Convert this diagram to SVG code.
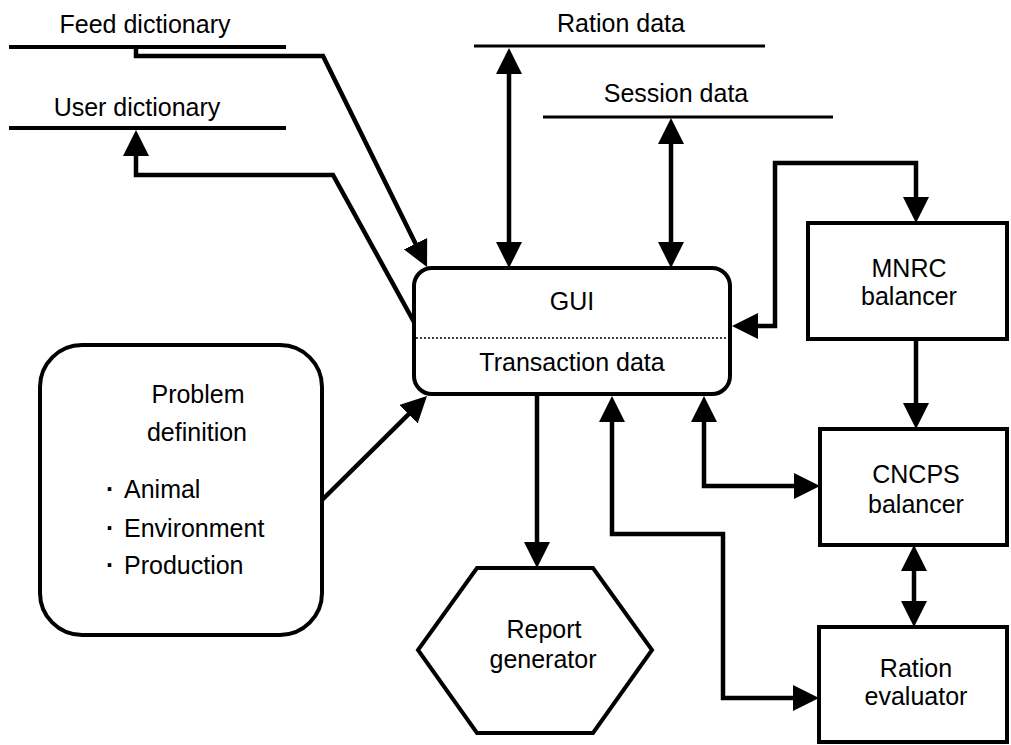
<svg xmlns="http://www.w3.org/2000/svg" width="1011" height="745" viewBox="0 0 1011 745">
<style>
text{font-family:"Liberation Sans",Arial,sans-serif;font-size:25px;fill:#000}
.c{text-anchor:middle}
.box{fill:#fff;stroke:#000;stroke-width:4}
.store{stroke:#000;stroke-width:4;fill:none}
.con{stroke:#000;stroke-width:4.5;fill:none;stroke-linejoin:miter}
.dot{stroke:#000;stroke-width:1.5;stroke-dasharray:2 2;fill:none}
.b{font-weight:bold}
</style>
<defs>
<marker id="ah" markerUnits="userSpaceOnUse" markerWidth="26" markerHeight="26" viewBox="0 0 26 26" refX="18" refY="13" orient="auto-start-reverse">
<path d="M0,0 L26,13 L0,26 z" fill="#000"/>
</marker>
</defs>
<rect width="1011" height="745" fill="#fff"/>
<g id="connectors">
<path class="con" d="M136,47 V56 H323 L423.5,259.8" marker-end="url(#ah)"/>
<path class="con" d="M414,322 L333,175 H136 V138" marker-end="url(#ah)"/>
<path class="con" d="M509,56 V260" marker-start="url(#ah)" marker-end="url(#ah)"/>
<path class="con" d="M671,126 V260" marker-start="url(#ah)" marker-end="url(#ah)"/>
<path class="con" d="M740,326 H775 V163 H916 V215" marker-start="url(#ah)" marker-end="url(#ah)"/>
<path class="con" d="M916,339 V421" marker-end="url(#ah)"/>
<path class="con" d="M322,500 L421.3,401.6" marker-end="url(#ah)"/>
<path class="con" d="M537,394 V560" marker-end="url(#ah)"/>
<path class="con" d="M612,404 V534 H723 V698 H811" marker-start="url(#ah)" marker-end="url(#ah)"/>
<path class="con" d="M704,404 V486 H812" marker-start="url(#ah)" marker-end="url(#ah)"/>
<path class="con" d="M914,553 V619" marker-start="url(#ah)" marker-end="url(#ah)"/>
</g>
<g id="feed-dictionary">
<line class="store" x1="9" y1="47" x2="286" y2="47"/>
<text class="c" x="145" y="33">Feed dictionary</text>
</g>
<g id="user-dictionary">
<line class="store" x1="9" y1="128" x2="286" y2="128"/>
<text class="c" x="137" y="116">User dictionary</text>
</g>
<g id="ration-data">
<line class="store" x1="474" y1="46" x2="765" y2="46" style="stroke-width:3"/>
<text class="c" x="621" y="32">Ration data</text>
</g>
<g id="session-data">
<line class="store" x1="543" y1="117" x2="833" y2="117" style="stroke-width:3"/>
<text class="c" x="676" y="102">Session data</text>
</g>
<g id="gui">
<rect class="box" x="414" y="268" width="316" height="126" rx="18"/>
<line class="dot" x1="416" y1="338" x2="728" y2="338"/>
<text class="c" x="572" y="310">GUI</text>
<text class="c" x="572" y="371">Transaction data</text>
</g>
<g id="mnrc-balancer">
<rect class="box" x="808" y="223" width="199" height="116"/>
<text class="c" x="909" y="277">MNRC</text>
<text class="c" x="909" y="305">balancer</text>
</g>
<g id="cncps-balancer">
<rect class="box" x="820" y="429" width="187" height="116"/>
<text class="c" x="916" y="483">CNCPS</text>
<text class="c" x="916" y="513">balancer</text>
</g>
<g id="ration-evaluator">
<rect class="box" x="819" y="627" width="188" height="115"/>
<text class="c" x="916" y="677">Ration</text>
<text class="c" x="916" y="705">evaluator</text>
</g>
<g id="report-generator">
<polygon class="box" points="477,568 593,568 652,650 593,733 477,733 418,650"/>
<text class="c" x="544" y="638">Report</text>
<text class="c" x="543" y="668">generator</text>
</g>
<g id="problem-definition">
<rect class="box" x="40" y="345" width="282" height="290" rx="42"/>
<text class="c" x="198" y="403">Problem</text>
<text class="c" x="197" y="441">definition</text>
<text class="b" x="106" y="498">·</text>
<text x="124" y="498">Animal</text>
<text class="b" x="106" y="537">·</text>
<text x="124" y="537">Environment</text>
<text class="b" x="106" y="574">·</text>
<text x="124" y="574">Production</text>
</g>
</svg>
